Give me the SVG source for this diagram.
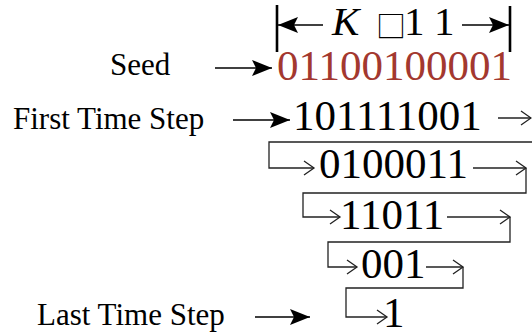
<svg xmlns="http://www.w3.org/2000/svg" width="532" height="332" viewBox="0 0 532 332">
  <style>
    .lbl { font-family: "Liberation Serif", "Times New Roman", serif; font-size: 31px; fill: #000; }
    .bits { font-family: "Liberation Serif", "Times New Roman", serif; font-size: 43px; fill: #000; }
    .seed { fill: #a3382f; }
    .dim { stroke: #000; stroke-width: 2.6; fill: none; }
    .arr { stroke: #000; stroke-width: 1.5; fill: none; }
    .flow { stroke: #222; stroke-width: 1.3; fill: none; }
  </style>
  <defs>
    <marker id="solid" markerUnits="userSpaceOnUse" markerWidth="24" markerHeight="20" viewBox="-22 -10 24 20" refX="0" refY="0" orient="auto">
      <path d="M0 0 L-20 -8 L-16 0 L-20 8 Z" fill="#000"/>
    </marker>
    <marker id="open" markerUnits="userSpaceOnUse" markerWidth="14" markerHeight="18" viewBox="-12 -9 14 18" refX="0" refY="0" orient="auto">
      <path d="M-10 -7 L0 0 L-10 7" fill="none" stroke="#222" stroke-width="1.3"/>
    </marker>
  </defs>

  <!-- width marker above the seed -->
  <g id="width-marker">
    <line class="dim" x1="277" y1="5" x2="277" y2="52"/>
    <line class="dim" x1="510" y1="6" x2="510" y2="52"/>
    <text x="332" y="35" font-family="Liberation Serif, serif" font-size="41" font-style="italic">K</text>
    <text x="376" y="37" font-family="Noto Sans CJK SC, sans-serif" font-size="30">□</text>
    <text x="404" y="35" font-family="Liberation Serif, serif" font-size="41" letter-spacing="11">11</text>
  </g>

  <!-- row labels -->
  <g id="label-seed"><text class="lbl" x="110" y="75">Seed</text></g>
  <g id="label-first"><text class="lbl" x="13" y="129">First Time Step</text></g>
  <g id="label-last"><text class="lbl" x="37" y="325">Last Time Step</text></g>

  <!-- bit rows -->
  <g id="row-seed"><text class="bits seed" x="277" y="80">01100100001</text></g>
  <g id="row-1"><text class="bits" x="293" y="130">101111001</text></g>
  <g id="row-2"><text class="bits" x="319" y="178">0100011</text></g>
  <g id="row-3"><text class="bits" x="340" y="229">11011</text></g>
  <g id="row-4"><text class="bits" x="361" y="278">001</text></g>
  <g id="row-5"><text class="bits" x="383" y="327">1</text></g>

  <g id="connectors">
    <!-- dimension arrows -->
    <line class="arr" x1="323" y1="25" x2="278" y2="25" marker-end="url(#solid)"/>
    <line class="arr" x1="462" y1="25" x2="509" y2="25" marker-end="url(#solid)"/>
    <!-- label pointers -->
    <line class="arr" x1="215" y1="68" x2="272" y2="68" marker-end="url(#solid)"/>
    <line class="arr" x1="233" y1="120" x2="290" y2="120" marker-end="url(#solid)"/>
    <line class="arr" x1="255" y1="317" x2="310" y2="317" marker-end="url(#solid)"/>
    <!-- carry-over paths between steps -->
    <path class="flow" d="M498 118 H531" marker-end="url(#open)"/>
    <path class="flow" d="M532 142 H269 V168 H314" marker-end="url(#open)"/>
    <path class="flow" d="M473 168 H526" marker-end="url(#open)"/>
    <path class="flow" d="M526 168 V193 H303 V217 H340" marker-end="url(#open)"/>
    <path class="flow" d="M447 217 H510" marker-end="url(#open)"/>
    <path class="flow" d="M510 217 V242 H328 V267 H357" marker-end="url(#open)"/>
    <path class="flow" d="M426 267 H463" marker-end="url(#open)"/>
    <path class="flow" d="M463 267 V288 H346 V317 H387" marker-end="url(#open)"/>
  </g>
</svg>
